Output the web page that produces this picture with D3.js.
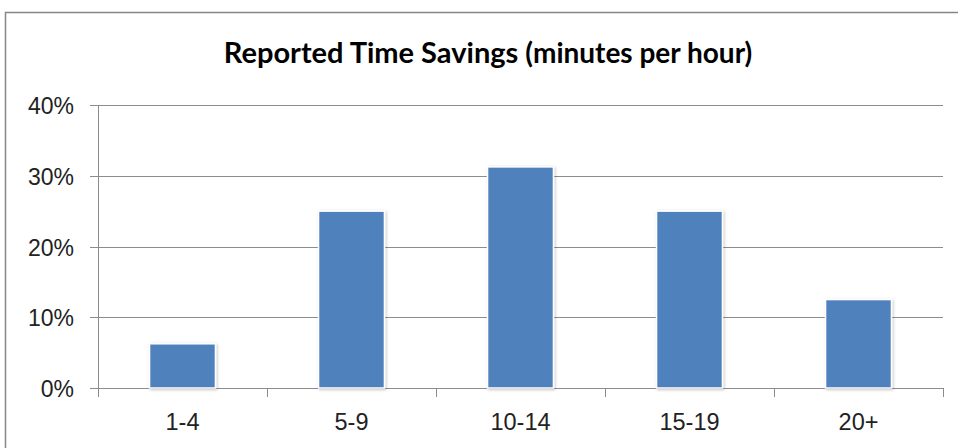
<!DOCTYPE html>
<html><head><meta charset="utf-8">
<script src="https://cdn.jsdelivr.net/npm/d3@7"></script>
<style>body{margin:0;background:#fff;} svg{display:block;}</style>
</head><body>
<svg id="c" width="958" height="448"></svg>
<script>
const categories = ["1-4", "5-9", "10-14", "15-19", "20+"];
const values = [0.0625, 0.25, 0.3125, 0.25, 0.125];
const yTicks = [0, 0.1, 0.2, 0.3, 0.4];

const svg = d3.select("#c");
const defs = svg.append("defs");
const f = defs.append("filter").attr("id","sh").attr("x","-20%").attr("y","-20%").attr("width","140%").attr("height","140%");
f.append("feDropShadow").attr("dx",1).attr("dy",1).attr("stdDeviation",1.5).attr("flood-color","#000").attr("flood-opacity",0.25);

svg.append("rect").attr("x",5.5).attr("y",12.5).attr("width",960).attr("height",460)
  .attr("fill","#fff").attr("stroke","#868686").attr("stroke-width",1.5);

const m = {left:98, right:943, top:105, bottom:388};
const x = d3.scaleBand().domain(categories).range([m.left, m.right]).paddingInner(0.61).paddingOuter(0.305);
const y = d3.scaleLinear().domain([0,0.4]).range([m.bottom, m.top]);

// gridlines
svg.append("g").selectAll("line").data(yTicks).join("line")
  .attr("x1", m.left-8).attr("x2", m.right).attr("y1", d=>Math.round(y(d))+0.5).attr("y2", d=>Math.round(y(d))+0.5)
  .attr("stroke","#8c8c8c").attr("stroke-width",1);

// y axis line
svg.append("line").attr("x1",m.left+0.5).attr("x2",m.left+0.5).attr("y1",m.top).attr("y2",m.bottom+9)
  .attr("stroke","#8c8c8c");

// x tick marks at band boundaries
const bounds = categories.map(c => x(c) - x.step()*x.paddingInner()/2);
bounds.push(m.right);
svg.append("g").selectAll("line").data(bounds.slice(1)).join("line")
  .attr("x1", d=>Math.round(d)+0.5).attr("x2", d=>Math.round(d)+0.5).attr("y1", m.bottom).attr("y2", m.bottom+9)
  .attr("stroke","#8c8c8c");

// y labels
svg.append("g").selectAll("text").data(yTicks).join("text")
  .attr("x", 74).attr("y", d=>y(d)+9).attr("text-anchor","end")
  .attr("font-family","Liberation Sans, Arial, sans-serif").attr("font-size",23).attr("fill","#222")
  .text(d=>d3.format(".0%")(d));

// x labels
svg.append("g").selectAll("text").data(categories).join("text")
  .attr("x", d=>x(d)+x.bandwidth()/2).attr("y", 430).attr("text-anchor","middle")
  .attr("font-family","Liberation Sans, Arial, sans-serif").attr("font-size",23.5).attr("fill","#222")
  .text(d=>d);

// bars
svg.append("g").selectAll("rect").data(values).join("rect")
  .attr("x",(d,i)=>x(categories[i])).attr("width",x.bandwidth())
  .attr("y",d=>y(d)).attr("height",d=>y(0)-y(d))
  .attr("fill","#4F81BD").attr("stroke","#fff").attr("stroke-width",1.5).attr("filter","url(#sh)");

// title
const t = svg.append("text").attr("x",488).attr("y",63).attr("text-anchor","middle")
  .attr("font-family","Lato, Open Sans, sans-serif").attr("font-weight","bold").attr("fill","#000");
t.append("tspan").attr("font-size",29).text("Reported Time Savings ");
t.append("tspan").attr("font-size",28).text("(minutes per hour)");
</script>
</body></html>
